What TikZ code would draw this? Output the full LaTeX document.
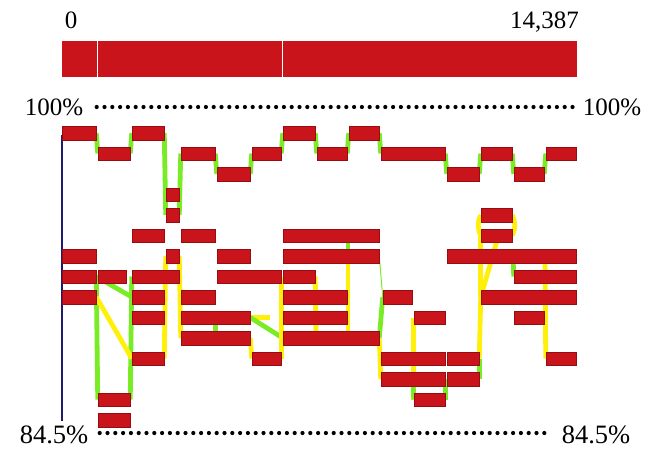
\documentclass[tikz,border=0pt]{standalone}
\usepackage{fontspec}
\setmainfont{Liberation Serif}
\usepackage[svgnames]{xcolor}
\usepackage{tikz}
\usetikzlibrary{backgrounds}
\definecolor{blockred}{RGB}{200,20,26}
\definecolor{blockedge}{RGB}{150,12,16}
\definecolor{lgreen}{RGB}{122,236,38}
\definecolor{lyellow}{RGB}{255,240,12}
\definecolor{axisblue}{RGB}{28,28,110}
\tikzstyle{none}=[inner sep=0pt]
\tikzstyle{block}=[rectangle,fill=blockred,draw=blockedge,line width=0.4pt,minimum height=13.5pt,inner sep=0pt,outer sep=0pt]
\tikzstyle{bar}=[rectangle,fill=blockred,draw=white,line width=0.9pt,minimum height=37pt,inner sep=0pt,outer sep=0pt]
\tikzstyle{numtext}=[inner sep=0pt,anchor=base,font=\fontsize{25}{30}\selectfont]
\tikzstyle{pcttext}=[inner sep=0pt,anchor=base,font=\fontsize{26.5}{32}\selectfont]
\tikzstyle{glink}=[-,draw=lgreen,line width=4.8pt]
\tikzstyle{ylink}=[-,draw=lyellow,line width=4.8pt]
\tikzstyle{thinlink}=[-,draw=lgreen,line width=1pt]
\tikzstyle{dots}=[-,line width=4.2pt,line cap=round,dash pattern=on 0pt off 7.8pt]
\tikzstyle{axisline}=[-,draw=axisblue,line width=1.3pt]
\pgfdeclarelayer{edgelayer}
\pgfdeclarelayer{nodelayer}
\pgfsetlayers{edgelayer,nodelayer,main}
\begin{document}
\begin{tikzpicture}[x=1pt,y=-1pt]
	\useasboundingbox (0,0) rectangle (672,475);
	\begin{pgfonlayer}{nodelayer}
		% top row
		\node [style=block, minimum width=34.5pt] (0) at (79, 133) {};
		\node [style=block, minimum width=32.5pt] (1) at (148, 133) {};
		\node [style=block, minimum width=32.5pt] (2) at (299, 133) {};
		\node [style=block, minimum width=30.5pt] (3) at (364, 133) {};
		\node [style=block, minimum width=32.5pt] (4) at (114, 153.5) {};
		\node [style=block, minimum width=34.5pt] (5) at (198, 153.5) {};
		\node [style=block, minimum width=29.5pt] (6) at (266.5, 153.5) {};
		\node [style=block, minimum width=30.5pt] (7) at (332, 153.5) {};
		\node [style=block, minimum width=64.5pt] (8) at (413, 153.5) {};
		\node [style=block, minimum width=31.5pt] (9) at (496.5, 153.5) {};
		\node [style=block, minimum width=30.5pt] (10) at (561, 153.5) {};
		\node [style=block, minimum width=33.5pt] (11) at (233.5, 174) {};
		\node [style=block, minimum width=32.5pt] (12) at (463, 174) {};
		\node [style=block, minimum width=30.5pt] (13) at (529, 174) {};
		\node [style=block, minimum width=13.5pt] (14) at (172.5, 194.5) {};
		\node [style=block, minimum width=13.5pt] (15) at (172.5, 215) {};
		\node [style=block, minimum width=31.5pt] (16) at (496.5, 215) {};
		% lower rows
		\node [style=block, minimum width=32.5pt] (17) at (148, 235.5) {};
		\node [style=block, minimum width=34.5pt] (18) at (198, 235.5) {};
		\node [style=block, minimum width=96.5pt] (19) at (331, 235.5) {};
		\node [style=block, minimum width=31.5pt] (20) at (496.5, 235.5) {};
		\node [style=block, minimum width=34.5pt] (21) at (79, 256) {};
		\node [style=block, minimum width=13.5pt] (22) at (172.5, 256) {};
		\node [style=block, minimum width=33.5pt] (23) at (233.5, 256) {};
		\node [style=block, minimum width=96.5pt] (24) at (331, 256) {};
		\node [style=block, minimum width=129.5pt] (25) at (511.5, 256) {};
		\node [style=block, minimum width=34.5pt] (26) at (79, 276.5) {};
		\node [style=block, minimum width=28.5pt] (27) at (112, 276.5) {};
		\node [style=block, minimum width=47.5pt] (28) at (155.5, 276.5) {};
		\node [style=block, minimum width=64.5pt] (29) at (249, 276.5) {};
		\node [style=block, minimum width=32.5pt] (30) at (299, 276.5) {};
		\node [style=block, minimum width=62.5pt] (31) at (545, 276.5) {};
		\node [style=block, minimum width=34.5pt] (32) at (79, 297) {};
		\node [style=block, minimum width=32.5pt] (33) at (148, 297) {};
		\node [style=block, minimum width=34.5pt] (34) at (198, 297) {};
		\node [style=block, minimum width=64.5pt] (35) at (315, 297) {};
		\node [style=block, minimum width=29.5pt] (36) at (397.5, 297) {};
		\node [style=block, minimum width=95.5pt] (37) at (528.5, 297) {};
		\node [style=block, minimum width=32.5pt] (38) at (148, 317.5) {};
		\node [style=block, minimum width=69.5pt] (39) at (215.5, 317.5) {};
		\node [style=block, minimum width=64.5pt] (40) at (315, 317.5) {};
		\node [style=block, minimum width=31.5pt] (41) at (429.5, 317.5) {};
		\node [style=block, minimum width=30.5pt] (42) at (529, 317.5) {};
		\node [style=block, minimum width=69.5pt] (43) at (215.5, 338) {};
		\node [style=block, minimum width=96.5pt] (44) at (331, 338) {};
		\node [style=block, minimum width=32.5pt] (45) at (148, 358.5) {};
		\node [style=block, minimum width=29.5pt] (46) at (266.5, 358.5) {};
		\node [style=block, minimum width=64.5pt] (47) at (413, 358.5) {};
		\node [style=block, minimum width=32.5pt] (48) at (463, 358.5) {};
		\node [style=block, minimum width=30.5pt] (49) at (561, 358.5) {};
		\node [style=block, minimum width=64.5pt] (50) at (413, 379) {};
		\node [style=block, minimum width=32.5pt] (51) at (463, 379) {};
		\node [style=block, minimum width=32.5pt] (52) at (114, 399.5) {};
		\node [style=block, minimum width=31.5pt] (53) at (429.5, 399.5) {};
		\node [style=block, minimum width=32.5pt] (54) at (114, 420) {};
		% reference bar and scale
		\node [style=bar, minimum width=36pt] (55) at (79, 58.5) {};
		\node [style=bar, minimum width=185pt] (56) at (189.5, 58.5) {};
		\node [style=bar, minimum width=295pt] (57) at (429.5, 58.5) {};
		\node [style=numtext] (58) at (71, 28) {0};
		\node [style=numtext, anchor=base east] (59) at (579, 28) {14,387};
		\node [style=numtext] (60) at (54, 115) {100\%};
		\node [style=numtext] (61) at (612, 115) {100\%};
		\node [style=pcttext] (62) at (54, 443) {84.5\%};
		\node [style=pcttext] (63) at (596, 443) {84.5\%};
		\node [style=none] (64) at (96, 107) {};
		\node [style=none] (65) at (576, 107) {};
		\node [style=none] (66) at (99, 433) {};
		\node [style=none] (67) at (549, 433) {};
		\node [style=none] (68) at (62, 134) {};
		\node [style=none] (69) at (62, 422) {};
		\node [style=none] (70) at (271, 317.5) {};
		\node [style=none] (71) at (316, 338) {};
		\node [style=none] (72) at (348, 256) {};
		\node [style=none] (73) at (348, 338) {};
		\node [style=none] (74) at (348, 235.5) {};
		\node [style=none] (75) at (513, 256) {};
		\node [style=none] (76) at (545, 256) {};
	\end{pgfonlayer}
	\begin{pgfonlayer}{edgelayer}
		\draw [style=dots] (64) to (65);
		\draw [style=dots] (66) to (67);
		\draw [style=axisline] (68) to (69);
		% top chain
		\draw [style=glink] (0.east) to (4.west);
		\draw [style=glink] (4.east) to (1.west);
		\draw [style=glink] (1.east) to (15.west);
		\draw [style=glink] (15.east) to (5.west);
		\draw [style=glink] (5.east) to (11.west);
		\draw [style=glink] (11.east) to (6.west);
		\draw [style=glink] (6.east) to (2.west);
		\draw [style=glink] (2.east) to (7.west);
		\draw [style=glink] (7.east) to (3.west);
		\draw [style=glink] (3.east) to (8.west);
		\draw [style=glink] (8.east) to (12.west);
		\draw [style=glink] (12.east) to (9.west);
		\draw [style=glink] (9.east) to (13.west);
		\draw [style=glink] (13.east) to (10.west);
		% lower links
		\draw [style=glink] (26.east) to (52.west);
		\draw [style=glink] (28.west) to (52.east);
		\draw [style=glink] (26.east) to (33.west);
		\draw [style=ylink] (32.east) to (45.west);
		\draw [style=ylink] (22.west) to (45.east);
		\draw [style=ylink] (22.east) to (43.west);
		\draw [style=glink] (39.south) to (43.north);
		\draw [style=ylink] (39.east) to (70);
		\draw [style=glink] (39.east) to (44.west);
		\draw [style=ylink] (43.east) to (46.west);
		\draw [style=ylink] (29.east) to (46.east);
		\draw [style=ylink] (30.east) to (71);
		\draw [style=ylink] (72) to (73);
		\draw [style=glink] (74) to (72);
		\draw [style=thinlink] (24.east) to (36.west);
		\draw [style=glink] (36.west) to (44.east);
		\draw [style=ylink] (44.east) to (50.west);
		\draw [style=ylink] (41.west) to (53.west);
		\draw [style=glink] (50.center) to (53.west);
		\draw [style=glink] (50.east) to (53.east);
		\draw [style=ylink] (37.west) to (48.east);
		\draw [style=glink] (48.east) to (51.east);
		\draw [style=ylink, bend right=25, looseness=1.00] (16.west) to (20.west);
		\draw [style=ylink, bend left=25, looseness=1.00] (16.east) to (20.east);
		\draw [style=ylink] (20.south) to (37.west);
		\draw [style=ylink] (20.west) to (37.west);
		\draw [style=glink] (75) to (31.west);
		\draw [style=ylink] (76) to (49.west);
	\end{pgfonlayer}
\end{tikzpicture}
\end{document}
